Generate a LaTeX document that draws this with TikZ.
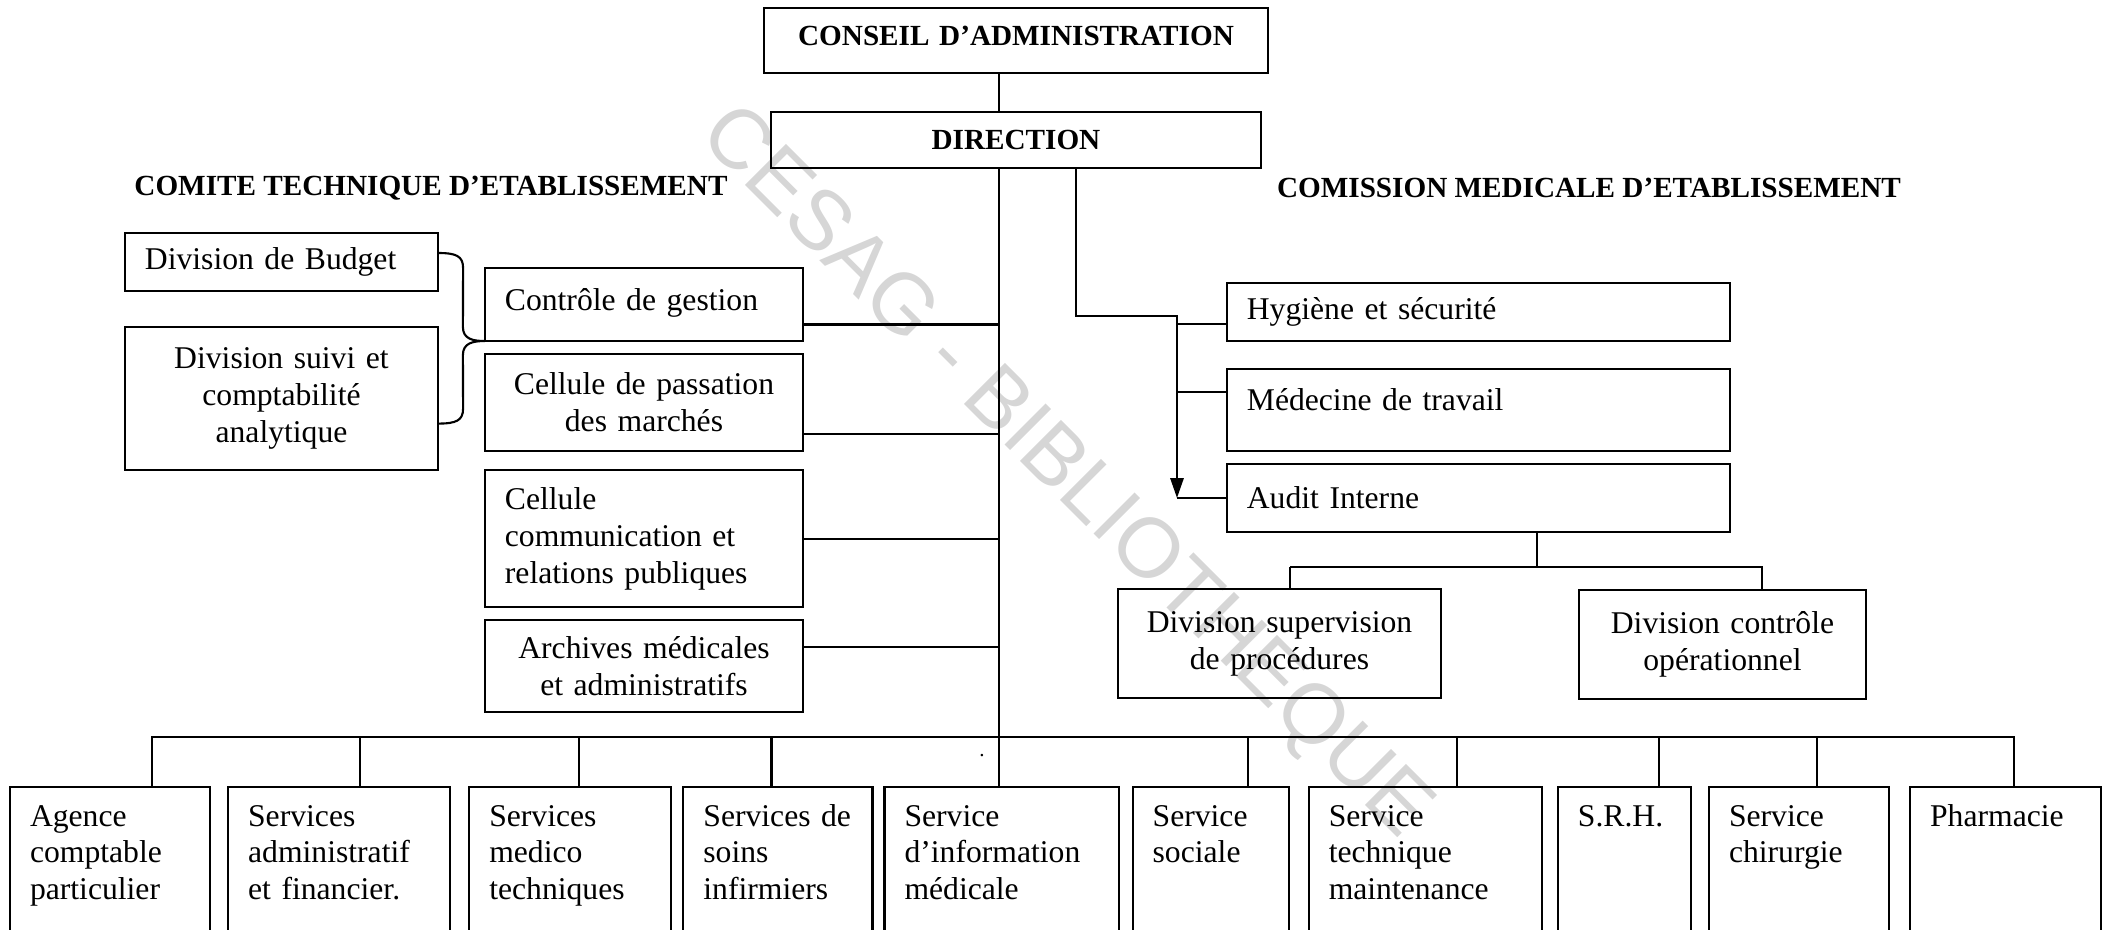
\documentclass[tikz,border=0pt]{standalone}
\usepackage{fontspec}
\setmainfont{Liberation Serif}
\newfontfamily\wmfont{Liberation Sans}
\usepackage{tikz}
\usetikzlibrary{arrows.meta,positioning,calc}
\usepackage{xcolor}
\definecolor{wmgray}{RGB}{214,214,214}
\newcommand{\orgbody}{\fontsize{9}{10.5}\selectfont}
\newcommand{\orgtitle}{\fontsize{8.3}{10}\selectfont\bfseries}

\begin{document}
\begin{tikzpicture}[
  x=0.01cm, y=-0.01cm,
  every node/.style={font=\orgbody},
  unitbox/.style={draw, line width=0.6pt, inner xsep=0.2cm, inner ysep=0pt, outer sep=0pt},
  lbox/.style={unitbox, align=left},
  cbox/.style={unitbox, align=center},
  svcbox/.style={unitbox, anchor=north west, align=left, text width=#1, text height=0.39cm, text depth=1.6cm},
  title/.style={font=\orgtitle, inner sep=0pt},
  link/.style={line width=0.6pt}
]
\useasboundingbox (0,0) rectangle (2111,930);
\clip (0,0) rectangle (2111,930);

% watermark
\node[font=\wmfont\fontsize{24}{24}\selectfont, text=wmgray, rotate=-45] (wm) at (1064,474) {CESAG - BIBLIOTHEQUE};

\node[cbox, font=\orgtitle, text width=4.64cm, minimum height=0.65cm, text depth=0.1cm] (conseil) at (1016,40.5) {CONSEIL D’ADMINISTRATION};
\node[cbox, font=\orgtitle, text width=4.5cm, minimum height=0.56cm] (direction) at (1016,140) {DIRECTION};

\node[title] (cte) at (431,188) {COMITE TECHNIQUE D’ETABLISSEMENT};
\node[title] (cme) at (1589,188) {COMISSION MEDICALE D’ETABLISSEMENT};

% left side
\node[lbox, text width=2.73cm, minimum height=0.58cm] (budget) at (281.5,262) {Division de Budget};
\node[cbox, text width=2.73cm, minimum height=1.43cm, below=0.36cm of budget] (suivi) {Division suivi et\\comptabilité\\analytique};

\node[lbox, text width=2.78cm, minimum height=0.73cm, text depth=0.1cm] (ctrl) at (644,304.5) {Contrôle de gestion};
\node[cbox, text width=2.78cm, minimum height=0.97cm, below=0.13cm of ctrl] (passation) {Cellule de passation\\des marchés};
\node[lbox, text width=2.78cm, minimum height=1.37cm, below=0.19cm of passation] (comm) {Cellule\\communication et\\relations publiques};
\node[cbox, text width=2.78cm, minimum height=0.92cm, below=0.13cm of comm] (archives) {Archives médicales\\et administratifs};

% right side
\node[lbox, text width=4.63cm, minimum height=0.58cm] (hyg) at (1478.5,312) {Hygiène et sécurité};
\node[lbox, text width=4.63cm, minimum height=0.82cm, text depth=0.22cm, below=0.28cm of hyg] (medecine) {Médecine de travail};
\node[lbox, text width=4.63cm, minimum height=0.68cm, below=0.13cm of medecine] (audit) {Audit Interne};
\node[cbox, text width=2.83cm, minimum height=1.09cm] (superv) at (1279.5,643.5) {Division supervision\\de procédures};
\node[cbox, text width=2.47cm, minimum height=1.09cm] (ctrlop) at (1722.5,644.5) {Division contrôle\\opérationnel};

% services
\node[svcbox=1.60cm] (agence) at (10,787) {Agence\\comptable\\particulier};
\node[svcbox=1.82cm, right=0.18cm of agence] (admin) {Services\\administratif\\et financier.};
\node[svcbox=1.62cm, right=0.19cm of admin] (medico) {Services\\medico\\techniques};
\node[svcbox=1.49cm, right=0.12cm of medico] (soins) {Services~de\\soins\\infirmiers};
\node[svcbox=1.94cm, right=0.12cm of soins] (info) {Service\\d’information\\médicale};
\node[svcbox=1.16cm, right=0.14cm of info] (sociale) {Service\\sociale};
\node[svcbox=1.93cm, right=0.20cm of sociale] (techn) {Service\\technique\\maintenance};
\node[svcbox=0.93cm, right=0.16cm of techn] (srh) {S.R.H.};
\node[svcbox=1.40cm, right=0.18cm of srh] (chir) {Service\\chirurgie};
\node[svcbox=1.51cm, right=0.21cm of chir] (pharm) {Pharmacie};

\node[inner sep=0pt, font=\fontsize{6}{6}\selectfont] (speck) at (982,756) {.};

% main trunk
\coordinate (trunk) at ([xshift=-0.17cm]direction.south);
\coordinate (bus) at ([yshift=0.5cm]info.north);
\draw[link] ([xshift=-0.17cm]conseil.south) -- ([xshift=-0.17cm]direction.north);
\draw[link] (trunk) -- (trunk |- info.north);
\draw[link] ([yshift=-0.2cm]ctrl.east) -| (trunk);
\draw[link] ([yshift=-0.31cm]passation.east) -| (trunk);
\draw[link] (comm.east) -| (trunk);
\draw[link] ([yshift=0.19cm]archives.east) -| (trunk);
\foreach \n/\d in {agence/42,admin/21,medico/9,soins/-6.5,sociale/37,techn/31.5,srh/34.5,chir/18,pharm/8.5}
  \draw[link] ($(\n.north)+(\d,0)$) |- (bus);

% brace
\coordinate (brtop) at ($(budget.east)+(0,-9)$);
\coordinate (brbot) at ($(suivi.east)+(0,25)$);
\draw[link] (brtop) .. controls +(18,0) and +(0,-12) .. ($(brtop)+(25,15)$)
  -- ($(ctrl.south west)+(-22,-14)$) .. controls +(0,12) and +(-12,0) .. (ctrl.south west)
  .. controls +(-12,0) and +(0,-12) .. ($(ctrl.south west)+(-22,14)$)
  -- ($(brbot)+(25,-15)$) .. controls +(0,12) and +(18,0) .. (brbot);

% medical branch
\coordinate (mcbus) at (1177,316);
\draw[link, line width=0.8pt, -{Triangle[length=2mm,width=1.3mm]}] ([xshift=0.6cm]direction.south) |- (mcbus) -- (mcbus |- audit.west);
\draw[link] ([yshift=-0.12cm]hyg.west) -- ++(-50,0);
\draw[link] ([yshift=0.18cm]medecine.west) -- ++(-50,0);
\draw[link] (audit.west) -- (audit.west -| mcbus);
\coordinate (ajoin) at ($(superv.north)+(10.5,-22)$);
\coordinate (adrop) at ([xshift=0.585cm]audit.south);
\draw[link] (adrop) -- (adrop |- ajoin);
\draw[link] (ajoin) -- (ajoin |- superv.north);
\draw[link] (ajoin) -| ([xshift=0.395cm]ctrlop.north);
\end{tikzpicture}
\end{document}
